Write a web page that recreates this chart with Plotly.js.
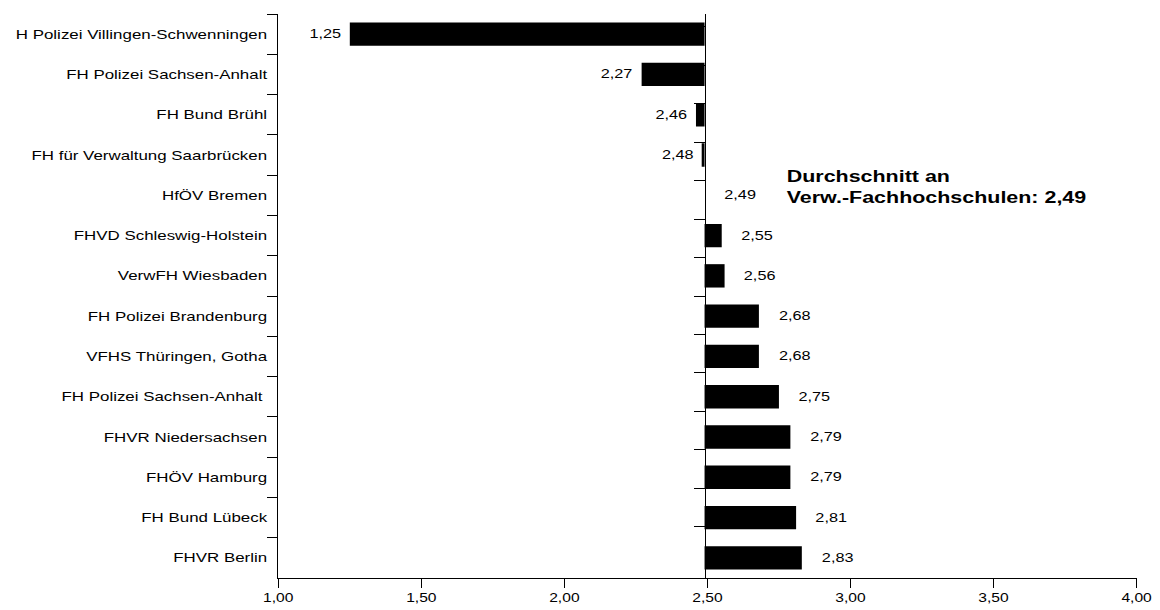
<!DOCTYPE html>
<html>
<head>
<meta charset="utf-8">
<script src="https://cdn.plot.ly/plotly-3.0.1.min.js"></script>
<style>
html,body{margin:0;padding:0;background:#fff;overflow:hidden;}
#wrap{width:1160px;height:610px;overflow:hidden;}
#chart{width:892px;height:610px;transform:scaleX(1.3004);transform-origin:0 0;}
</style>
</head>
<body>
<div id="wrap"><div id="chart"></div></div>
<script>
const categories = [
  "H Polizei Villingen-Schwenningen",
  "FH Polizei Sachsen-Anhalt",
  "FH Bund Brühl",
  "FH für Verwaltung Saarbrücken",
  "HfÖV Bremen",
  "FHVD Schleswig-Holstein",
  "VerwFH Wiesbaden",
  "FH Polizei Brandenburg",
  "VFHS Thüringen, Gotha",
  "FH Polizei Sachsen-Anhalt ",
  "FHVR Niedersachsen",
  "FHÖV Hamburg",
  "FH Bund Lübeck",
  "FHVR Berlin"
];
const values = [1.25, 2.27, 2.46, 2.48, 2.49, 2.55, 2.56, 2.68, 2.68, 2.75, 2.79, 2.79, 2.81, 2.83];
const average = 2.49;
const averageLabel = "Durchschnitt an<br>Verw.-Fachhochschulen: 2,49";
const xTickVals = [1.0, 1.5, 2.0, 2.5, 3.0, 3.5, 4.0];
const xTickText = ["1,00", "1,50", "2,00", "2,50", "3,00", "3,50", "4,00"];

const fmt = v => v.toFixed(2).replace(".", ",");
const FONT = "Liberation Sans, Arial, sans-serif";
const xMin = 1, xMax = 4;

const barTrace = {
  type: "bar",
  orientation: "h",
  y: categories,
  x: values.map(v => v - average),
  base: average,
  marker: {color: "#000000", line: {width: 0}},
  width: 0.58,
  textposition: "none",
  hoverinfo: "skip",
  xaxis: "x", yaxis: "y"
};
const dummy = {
  type: "scatter", mode: "markers", x: values, y: categories,
  marker: {opacity: 0}, hoverinfo: "skip", showlegend: false,
  xaxis: "x", yaxis: "y2"
};

const annotations = values.map((v, i) => ({
  x: v, y: categories[i], xref: "x", yref: "y",
  text: fmt(v),
  showarrow: false,
  xanchor: v < average ? "right" : "left",
  xshift: v < average ? -5 : 13,
  font: {family: FONT, size: 12.5, color: "#000"}
}));
annotations.push({
  xref: "x", yref: "y", x: 2.77, y: categories[4],
  text: "<b>" + averageLabel + "</b>",
  showarrow: false, xanchor: "left", align: "left", yshift: 9,
  font: {family: FONT, size: 16.5, color: "#000"}
});

const layout = {
  width: 892, height: 610,
  margin: {l: 214, r: 18, t: 14, b: 32},
  paper_bgcolor: "#fff", plot_bgcolor: "#fff",
  showlegend: false,
  font: {family: FONT, size: 13, color: "#000"},
  xaxis: {
    range: [xMin, xMax], tickvals: xTickVals, ticktext: xTickText,
    ticks: "outside", ticklen: 9, tickwidth: 1, tickcolor: "#000",
    showline: true, linecolor: "#000", linewidth: 1,
    showgrid: false, zeroline: false, fixedrange: true,
    tickfont: {family: FONT, size: 12, color: "#000"}
  },
  yaxis: {
    type: "category", categoryorder: "array", categoryarray: categories,
    autorange: "reversed",
    ticks: "outside", tickson: "boundaries", ticklen: 8, tickwidth: 1, tickcolor: "#000",
    showline: true, linecolor: "#000", linewidth: 1,
    showgrid: false, zeroline: false, fixedrange: true, ticklabelstandoff: 5,
    tickfont: {family: FONT, size: 13, color: "#000"}
  },
  yaxis2: {
    type: "category", categoryorder: "array", categoryarray: categories,
    autorange: "reversed", overlaying: "y", anchor: "free",
    position: (average - xMin) / (xMax - xMin), side: "left",
    ticks: "outside", tickson: "boundaries", ticklen: 8, tickwidth: 1, tickcolor: "#000",
    showline: true, linecolor: "#000", linewidth: 1,
    showticklabels: false, showgrid: false, zeroline: false, fixedrange: true
  },
  annotations: annotations
};

Plotly.newPlot("chart", [barTrace, dummy], layout, {displayModeBar: false, staticPlot: true});
</script>
</body>
</html>
